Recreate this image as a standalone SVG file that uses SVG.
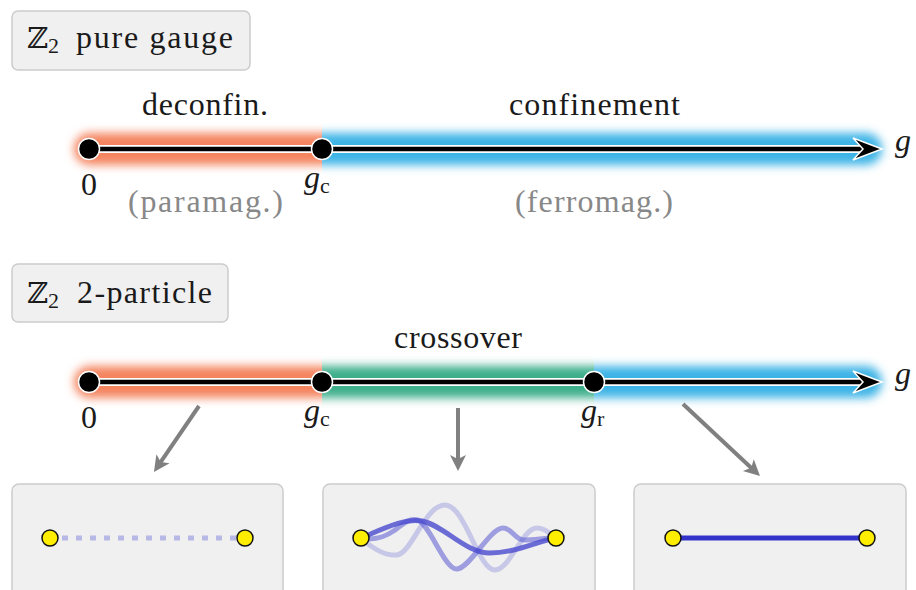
<svg xmlns="http://www.w3.org/2000/svg" width="916" height="590" viewBox="0 0 916 590">
<style>
.lbl{fill:#f0f0f0;stroke:#cccccc;stroke-width:1.5}
.t{font-size:32px;fill:#1a1a1a}
.zz{font-size:29px;fill:#1a1a1a}
.sub{font-size:22px;fill:#1a1a1a}
.gray{fill:#888888}
.it{font-style:italic}
.axw{stroke:#ffffff;stroke-width:8;fill:none}
.axb{stroke:#000000;stroke-width:4.5;fill:none}
.head{fill:#000;stroke:#fff;stroke-width:1.5;stroke-linejoin:miter}
.pt{fill:#000;stroke:#fff;stroke-width:1.5}
.yd{fill:#ffee00;stroke:#111;stroke-width:1.5}
.conn{stroke:#808080;stroke-width:4;fill:none}
.panel{fill:#f0f0f0;stroke:#cccccc;stroke-width:1.5}
.wave{fill:none;stroke:#4a4ad0;stroke-width:5;stroke-linecap:round}
</style>
<defs>
<filter id="soft" x="-10%" y="-150%" width="120%" height="400%"><feGaussianBlur stdDeviation="5"/></filter>
<clipPath id="cR"><rect x="0" y="0" width="322" height="590"/></clipPath>
<clipPath id="cM"><rect x="322" y="0" width="272" height="590"/></clipPath>
<clipPath id="cB1"><rect x="322" y="0" width="594" height="590"/></clipPath>
<clipPath id="cB2"><rect x="594" y="0" width="322" height="590"/></clipPath>
<marker id="ga" viewBox="-12 -10 24 20" refX="0" refY="0" markerWidth="24" markerHeight="20" markerUnits="userSpaceOnUse" orient="auto">
<path d="M10,0 L-6,-8 L-2,0 L-6,8 Z" fill="#808080"/>
</marker>
</defs>

<g id="label-pure" font-family="Liberation Serif, Times New Roman, Tinos, DejaVu Serif, Noto Serif, serif">
<rect class="lbl" x="12" y="11" width="238" height="59" rx="6"/>
<text class="zz" x="27" y="48" font-family="DejaVu Serif, DejaVu Sans, serif">ℤ</text>
<text class="sub" x="48" y="53">2</text>
<text class="t" x="76" y="48" textLength="157" lengthAdjust="spacing">pure gauge</text>
</g>

<g id="axis-pure" font-family="Liberation Serif, Times New Roman, Tinos, DejaVu Serif, Noto Serif, serif">
<rect x="74" y="133" width="266" height="32" rx="16" fill="#f4845f" filter="url(#soft)" clip-path="url(#cR)"/>
<rect x="300" y="133" width="582" height="32" rx="16" fill="#3db4e6" filter="url(#soft)" clip-path="url(#cB1)"/>
<line class="axw" x1="89" y1="149" x2="866" y2="149"/>
<line class="axb" x1="89" y1="149" x2="866" y2="149"/>
<path class="head" d="M882,149 L853,138 L863,149 L853,160 Z"/>
<circle class="pt" cx="89" cy="149" r="10.5"/>
<circle class="pt" cx="322" cy="149" r="10.5"/>
<text class="t" x="142" y="115" textLength="126" lengthAdjust="spacing">deconfin.</text>
<text class="t" x="509" y="115" textLength="171" lengthAdjust="spacing">confinement</text>
<text class="t" x="81" y="195">0</text>
<text class="t it" x="304" y="188">g</text>
<text class="sub" x="320" y="193">c</text>
<text class="t gray" x="128" y="212" textLength="155" lengthAdjust="spacing">(paramag.)</text>
<text class="t gray" x="515" y="212" textLength="158" lengthAdjust="spacing">(ferromag.)</text>
<text class="t it" x="895" y="151">g</text>
</g>

<g id="label-2p" font-family="Liberation Serif, Times New Roman, Tinos, DejaVu Serif, Noto Serif, serif">
<rect class="lbl" x="12" y="264" width="216" height="58" rx="6"/>
<text class="zz" x="27" y="303" font-family="DejaVu Serif, DejaVu Sans, serif">ℤ</text>
<text class="sub" x="48" y="308">2</text>
<text class="t" x="77" y="303" textLength="135" lengthAdjust="spacing">2-particle</text>
</g>

<g id="axis-2p" font-family="Liberation Serif, Times New Roman, Tinos, DejaVu Serif, Noto Serif, serif">
<rect x="74" y="366" width="266" height="32" rx="16" fill="#f4845f" filter="url(#soft)" clip-path="url(#cR)"/>
<rect x="300" y="366" width="320" height="32" fill="#3dae8a" filter="url(#soft)" clip-path="url(#cM)"/>
<rect x="570" y="366" width="312" height="32" rx="16" fill="#3db4e6" filter="url(#soft)" clip-path="url(#cB2)"/>
<line class="axw" x1="89" y1="382" x2="866" y2="382"/>
<line class="axb" x1="89" y1="382" x2="866" y2="382"/>
<path class="head" d="M882,382 L853,371 L863,382 L853,393 Z"/>
<circle class="pt" cx="89" cy="382" r="10.5"/>
<circle class="pt" cx="322" cy="382" r="10.5"/>
<circle class="pt" cx="594" cy="382" r="10.5"/>
<text class="t" x="394" y="348" textLength="128" lengthAdjust="spacing">crossover</text>
<text class="t" x="81" y="428">0</text>
<text class="t it" x="304" y="421">g</text>
<text class="sub" x="320" y="426">c</text>
<text class="t it" x="581" y="421">g</text>
<text class="sub" x="597" y="426">r</text>
<text class="t it" x="895" y="384">g</text>
</g>

<g id="connectors">
<line class="conn" x1="199" y1="406" x2="159.6" y2="463.7" marker-end="url(#ga)"/>
<line class="conn" x1="458" y1="408" x2="458" y2="461" marker-end="url(#ga)"/>
<line class="conn" x1="683" y1="404" x2="752.7" y2="469.2" marker-end="url(#ga)"/>
</g>

<g id="panel-deconf">
<rect class="panel" x="12" y="484" width="271" height="120" rx="7"/>
<line x1="62" y1="538" x2="236" y2="538" stroke="#b8b8e6" stroke-width="5" stroke-dasharray="6 8"/>
<circle class="yd" cx="50" cy="538" r="8"/>
<circle class="yd" cx="245" cy="538" r="8"/>
</g>

<g id="panel-cross">
<rect class="panel" x="323" y="484" width="272" height="120" rx="7"/>
<path class="wave" stroke-opacity="0.25" d="M361,538 C372,548 385,556 397,555 C412,553 425,505 445,505 C465,505 478,570 495,570 C510,570 522,528 537,528 C547,528 550,535 556,538"/>
<path class="wave" stroke-opacity="0.5" d="M361,538 C375,541 385,537 395,530 C405,522 410,518 418,520 C430,525 445,570 457,569 C470,568 490,528 503,528 C512,528 515,540 524,540 C535,540 545,538 556,538"/>
<path class="wave" stroke-opacity="0.8" d="M361,538 C385,528 405,518 422,521 C445,526 465,553 490,553 C515,553 535,542 556,538"/>
<circle class="yd" cx="361" cy="538" r="8"/>
<circle class="yd" cx="556" cy="538" r="8"/>
</g>

<g id="panel-conf">
<rect class="panel" x="634" y="484" width="272" height="120" rx="7"/>
<line x1="673" y1="538" x2="867" y2="538" stroke="#3333cc" stroke-width="5"/>
<circle class="yd" cx="673" cy="538" r="8"/>
<circle class="yd" cx="867" cy="538" r="8"/>
</g>
</svg>
